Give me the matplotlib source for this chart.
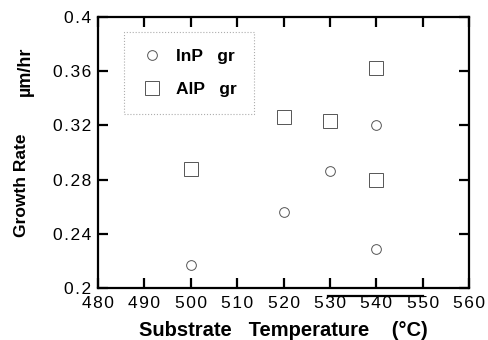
import matplotlib
matplotlib.use('Agg')
import matplotlib.pyplot as plt
from matplotlib.lines import Line2D

# data
inp_temp = [500, 520, 530, 540, 540]
inp_rate = [0.217, 0.256, 0.286, 0.320, 0.229]

alp_temp = [500, 520, 530, 540, 540]
alp_rate = [0.288, 0.326, 0.323, 0.362, 0.280]

x_ticks = [480, 490, 500, 510, 520, 530, 540, 550, 560]
y_ticks = [0.2, 0.24, 0.28, 0.32, 0.36, 0.4]
y_ticklabels = ['0.2', '0.24', '0.28', '0.32', '0.36', '0.4']


def spaced(s, gap='\u200a'):
    # the scanned figure has wide letter spacing
    return gap.join(s)


plt.rcParams['font.family'] = ['Liberation Sans', 'DejaVu Sans']

fig = plt.figure(figsize=(4.89, 3.4), dpi=100)
ax = fig.add_axes([98 / 489, 1 - 288 / 340, (469 - 98) / 489, (288 - 17) / 340])

ax.plot(inp_temp, inp_rate, linestyle='none', marker='o', markersize=7,
        markerfacecolor='none', markeredgecolor='#555555', markeredgewidth=0.7)
ax.plot(alp_temp, alp_rate, linestyle='none', marker='s', markersize=10,
        markerfacecolor='none', markeredgecolor='#555555', markeredgewidth=0.7)

ax.set_xlim(480, 560)
ax.set_ylim(0.2, 0.4)
ax.set_xticks(x_ticks)
ax.set_xticklabels([spaced(str(t)) for t in x_ticks])
ax.set_yticks(y_ticks)
ax.set_yticklabels([spaced(t) for t in y_ticklabels])

for s in ax.spines.values():
    s.set_linewidth(1.6)
ax.tick_params(direction='in', length=7, width=1.6, top=True, right=True,
               labelsize=12.5)
ax.tick_params(axis='x', pad=6)
ax.tick_params(axis='y', pad=5)

ax.set_xlabel('Substrate   Temperature    (°C)', fontsize=14.5, fontweight='bold', labelpad=7)

# y label: two separate pieces as in the original
ax.text(-0.205, 0.38, 'Growth Rate', transform=ax.transAxes, rotation=90,
        ha='center', va='center', fontsize=12.5, fontweight='bold')
ax.text(-0.197, 0.80, 'µm/hr', transform=ax.transAxes, rotation=90,
        ha='center', va='center', fontsize=13, fontweight='bold')

# legend
handles = [
    Line2D([], [], linestyle='none', marker='o', markersize=7, markerfacecolor='none',
           markeredgecolor='#555555', markeredgewidth=0.7),
    Line2D([], [], linestyle='none', marker='s', markersize=10, markerfacecolor='none',
           markeredgecolor='#555555', markeredgewidth=0.7),
]
leg = ax.legend(handles, ['InP   gr', 'AlP   gr'], loc='upper left',
                bbox_to_anchor=(0.07, 0.945), prop={'size': 12.5, 'weight': 'bold'},
                frameon=True, fancybox=False, borderpad=1.0, labelspacing=1.0,
                handlelength=1.2, handletextpad=0.8, borderaxespad=0)
frame = leg.get_frame()
frame.set_edgecolor('#999999')
frame.set_linestyle(':')
frame.set_linewidth(0.8)

# stray rule below the axis in the original scan
ax.plot([529.5, 550], [0.194, 0.194], color='black', linewidth=1.6, clip_on=False)

fig.savefig('out.png', dpi=100)
